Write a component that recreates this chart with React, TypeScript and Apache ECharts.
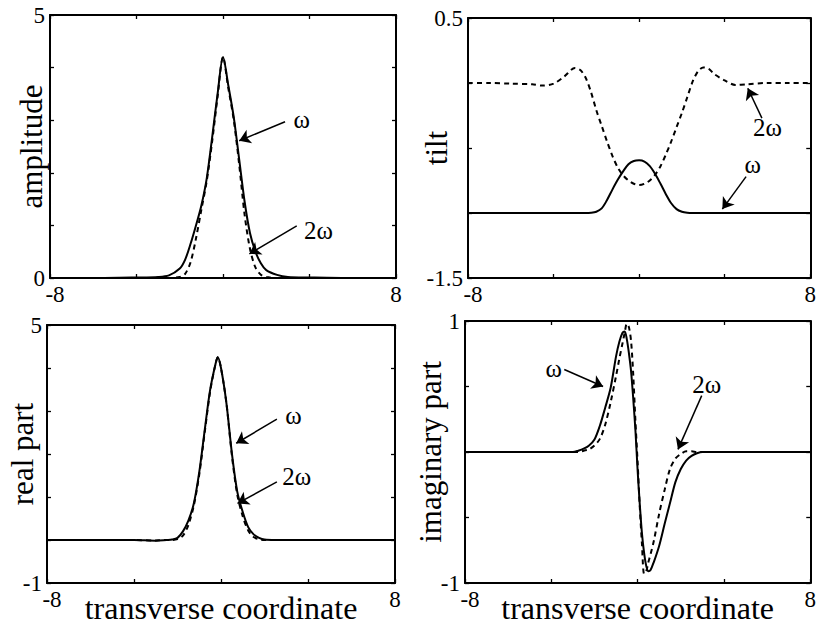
import React, { useEffect, useRef } from "react";
import * as echarts from "echarts";

// ---------- Data ----------
// Panel 1: amplitude
const AMP_X = [-8, -6, -4, -3, -2.5, -2, -1.75, -1.5, -1.25, -1, -0.75, -0.5, -0.25, 0, 0.25, 0.5, 0.75, 1, 1.25, 1.5, 1.75, 2, 2.5, 3, 4, 6, 8];
const AMP_W = [0, 0, 0.01, 0.02, 0.05, 0.18, 0.35, 0.65, 1.0, 1.38, 1.9, 2.68, 3.5, 4.2, 3.65, 3.05, 2.25, 1.45, 0.85, 0.5, 0.28, 0.15, 0.06, 0.02, 0.01, 0, 0];
const AMP_2W = [0, 0, 0, 0, 0, 0.02, 0.08, 0.3, 0.75, 1.3, 1.85, 2.6, 3.45, 4.2, 3.6, 3.0, 2.15, 1.2, 0.55, 0.2, 0.06, 0.02, 0, 0, 0, 0, 0];

// Panel 2: tilt
const TILT_X = [-8, -7, -6, -5, -4.5, -4, -3.5, -3, -2.75, -2.5, -2.25, -2, -1.75, -1.5, -1.25, -1, -0.75, -0.5, -0.25, 0, 0.25, 0.5, 0.75, 1, 1.25, 1.5, 1.75, 2, 2.25, 2.5, 2.75, 3, 3.25, 3.5, 4, 4.5, 5, 6, 7, 8];
const TILT_W = [-1, -1, -1, -1, -1, -1, -1, -1, -1, -1, -0.998, -0.99, -0.965, -0.9, -0.82, -0.745, -0.68, -0.625, -0.6, -0.595, -0.605, -0.64, -0.7, -0.775, -0.855, -0.925, -0.97, -0.99, -0.998, -1, -1, -1, -1, -1, -1, -1, -1, -1, -1, -1];
const TILT_2W = [0, 0, -0.005, -0.01, -0.02, -0.005, 0.05, 0.115, 0.1, 0.04, -0.07, -0.21, -0.33, -0.45, -0.56, -0.65, -0.71, -0.75, -0.775, -0.785, -0.775, -0.75, -0.705, -0.64, -0.55, -0.45, -0.34, -0.23, -0.11, 0.01, 0.09, 0.12, 0.11, 0.07, 0.02, -0.015, -0.01, 0, 0, 0];

// Panel 3: real part
const REAL_X = [-8, -6, -4, -3, -2.5, -2.25, -2, -1.75, -1.5, -1.25, -1, -0.75, -0.5, -0.25, -0.15, 0, 0.25, 0.5, 0.75, 1, 1.25, 1.5, 1.75, 2, 2.5, 3, 4, 6, 8];
const REAL_W = [0, 0, 0, -0.015, 0, 0.01, 0.05, 0.2, 0.45, 0.85, 1.58, 2.55, 3.49, 4.1, 4.25, 4.0, 3.18, 2.02, 1.12, 0.65, 0.3, 0.13, 0.05, 0.01, 0, 0, 0, 0, 0];
const REAL_2W = [0, 0, 0, -0.01, 0, 0, 0.02, 0.1, 0.35, 0.8, 1.52, 2.5, 3.45, 4.1, 4.25, 4.0, 3.18, 1.97, 1.05, 0.55, 0.22, 0.07, 0.02, 0, 0, 0, 0, 0, 0];

// Panel 4: imaginary part
const IMAG_X = [-8, -6, -4, -3, -2.75, -2.5, -2.25, -2, -1.75, -1.5, -1.25, -1, -0.85, -0.7, -0.6, -0.5, -0.4, -0.3, -0.2, -0.1, 0, 0.1, 0.2, 0.3, 0.4, 0.5, 0.6, 0.75, 1, 1.25, 1.5, 1.75, 2, 2.25, 2.5, 2.75, 3, 3.5, 4, 6, 8];
const IMAG_W = [0, 0, 0, 0, 0.01, 0.025, 0.05, 0.095, 0.2, 0.34, 0.49, 0.73, 0.84, 0.91, 0.92, 0.86, 0.75, 0.61, 0.4, 0.16, -0.14, -0.4, -0.62, -0.77, -0.87, -0.91, -0.9, -0.84, -0.715, -0.55, -0.39, -0.23, -0.13, -0.065, -0.03, -0.01, 0, 0, 0, 0, 0];
const IMAG_2W = [0, 0, 0, 0, 0, 0.01, 0.02, 0.05, 0.1, 0.21, 0.38, 0.58, 0.71, 0.83, 0.91, 0.98, 0.95, 0.84, 0.58, 0.23, -0.08, -0.42, -0.7, -0.93, -0.91, -0.84, -0.78, -0.68, -0.47, -0.29, -0.13, -0.05, -0.015, 0.005, 0.005, 0, 0, 0, 0, 0, 0];

// Axis ranges and names
const X_RANGE = [-8, 8];
const Y_RANGES = [
  [0, 5, 1],
  [-1.5, 0.5, 0.5],
  [-1, 5, 1],
  [-1, 1, 0.5],
];
const Y_NAMES = ["amplitude", "tilt", "real part", "imaginary part"];
const X_NAME = "transverse coordinate";

// Annotation anchors: [textX, textY, arrowStartX, arrowStartY, arrowTipX, arrowTipY]
const NOTE_W = [
  [3.64, 3.02, 2.87, 2.97, 0.75, 2.61],
  [5.31, -0.63, 5.0, -0.72, 3.89, -0.97],
  [3.33, 2.9, 2.57, 2.81, 0.7, 2.25],
  [-3.89, 0.64, -3.4, 0.63, -1.6, 0.5],
];
const NOTE_2W = [
  [4.41, 0.91, 3.41, 0.99, 1.22, 0.46],
  [6.0, -0.34, 5.74, -0.27, 5.08, -0.04],
  [3.48, 1.47, 2.57, 1.35, 0.76, 0.85],
  [3.2, 0.515, 2.97, 0.43, 1.87, 0.02],
];

const FONT = "Liberation Serif";
const TICK_FS = 23;

const GRIDS = [
  { left: 50, top: 15, width: 346, height: 263 },
  { left: 468, top: 18, width: 345, height: 260 },
  { left: 47, top: 325, width: 348, height: 258 },
  { left: 465, top: 321, width: 350, height: 264 },
];
const Y_NAME_GAPS = [3, 16, 9, 19];

const near = (a: number, b: number) => Math.abs(a - b) < 1e-6;

function buildOption() {
  const xAxis: any[] = [];
  const yAxis: any[] = [];
  const lineCol = "#000";
  const axisLine = { show: true, onZero: false, lineStyle: { color: lineCol, width: 2 } };
  const axisTick = { inside: true, length: 4, lineStyle: { color: lineCol, width: 1.3 } };
  const tickText = { color: "#000", fontSize: TICK_FS, lineHeight: 17, fontFamily: FONT };
  GRIDS.forEach((_, gi) => {
    const [ymin, ymax, yint] = Y_RANGES[gi];
    const hasXName = gi >= 2;
    xAxis.push({
      type: "value",
      gridIndex: gi,
      min: X_RANGE[0],
      max: X_RANGE[1],
      interval: 4,
      axisLine,
      axisTick,
      splitLine: { show: false },
      axisLabel: {
        margin: 8,
        ...tickText,
        formatter: (v: number) =>
          near(v, X_RANGE[0]) ? `{lo|${v}}` : near(v, X_RANGE[1]) ? String(v) : "",
        rich: { lo: { ...tickText, padding: [0, 0, 0, 10] } },
      },
      name: hasXName ? X_NAME : "",
      nameLocation: "middle",
      nameGap: 9,
      nameMoveOverlap: false,
      nameTextStyle: { color: "#000", fontSize: 32, fontFamily: FONT },
    });
    xAxis.push({
      type: "value",
      gridIndex: gi,
      position: "top",
      min: X_RANGE[0],
      max: X_RANGE[1],
      interval: 4,
      axisLine,
      axisTick,
      splitLine: { show: false },
      axisLabel: { show: false },
    });
    yAxis.push({
      type: "value",
      gridIndex: gi,
      position: "left",
      min: ymin,
      max: ymax,
      interval: yint,
      axisLine,
      axisTick,
      splitLine: { show: false },
      axisLabel: {
        margin: 5,
        ...tickText,
        formatter: (v: number) => (near(v, ymin) || near(v, ymax) ? String(v) : ""),
      },
      name: Y_NAMES[gi],
      nameLocation: "middle",
      nameGap: Y_NAME_GAPS[gi],
      nameMoveOverlap: false,
      nameTextStyle: { color: "#000", fontSize: 31, fontFamily: FONT },
    });
    yAxis.push({
      type: "value",
      gridIndex: gi,
      position: "right",
      min: ymin,
      max: ymax,
      interval: yint,
      axisLine,
      axisTick,
      splitLine: { show: false },
      axisLabel: { show: false },
    });
  });

  const panels = [
    { xs: AMP_X, w: AMP_W, w2: AMP_2W },
    { xs: TILT_X, w: TILT_W, w2: TILT_2W },
    { xs: REAL_X, w: REAL_W, w2: REAL_2W },
    { xs: IMAG_X, w: IMAG_W, w2: IMAG_2W },
  ];

  const series: any[] = [];
  panels.forEach((p, gi) => {
    const nw = NOTE_W[gi];
    const n2 = NOTE_2W[gi];
    const arrow = (n: number[]) => ({
      silent: true,
      symbol: ["none", "arrow"],
      symbolSize: 11,
      itemStyle: { color: "#000" },
      lineStyle: { color: "#000", width: 1.5, type: "solid" },
      label: { show: false },
      emphasis: { disabled: true },
      data: [[{ coord: [n[2], n[3]] }, { coord: [n[4], n[5]] }]],
    });
    const note = (n: number[], txt: string) => ({
      silent: true,
      symbol: "circle",
      symbolSize: 1,
      itemStyle: { color: "rgba(0,0,0,0)" },
      label: { show: true, position: "inside", formatter: "{b}", color: "#000", fontSize: 25, fontFamily: FONT },
      data: [{ name: txt, coord: [n[0], n[1]] }],
    });
    series.push({
      type: "line",
      name: "ω",
      xAxisIndex: gi * 2,
      yAxisIndex: gi * 2,
      data: p.xs.map((x, i) => [x, p.w[i]]),
      symbol: "none",
      smooth: 0.3,
      color: "#000",
      lineStyle: { color: "#000", width: 2, type: "solid" },
      markLine: arrow(nw),
      markPoint: note(nw, "ω"),
      z: 3,
    });
    series.push({
      type: "line",
      name: "2ω",
      xAxisIndex: gi * 2,
      yAxisIndex: gi * 2,
      data: p.xs.map((x, i) => [x, p.w2[i]]),
      symbol: "none",
      smooth: 0.3,
      color: "#000",
      lineStyle: { color: "#000", width: 2, type: [5, 4] },
      markLine: arrow(n2),
      markPoint: note(n2, "2ω"),
      z: 2,
    });
  });

  return {
    animation: false,
    backgroundColor: "#fff",
    grid: GRIDS.map((g) => ({ ...g, show: false, containLabel: false })),
    xAxis,
    yAxis,
    series,
  };
}

export default function App() {
  const ref = useRef<HTMLDivElement>(null);
  useEffect(() => {
    if (!ref.current) return;
    const chart = echarts.init(ref.current, undefined, { renderer: "svg" });
    chart.setOption(buildOption() as any);
    return () => chart.dispose();
  }, []);
  return (
    <div
      ref={ref}
      style={{ position: "absolute", left: 0, top: 0, width: 819, height: 625, background: "#fff" }}
    />
  );
}
